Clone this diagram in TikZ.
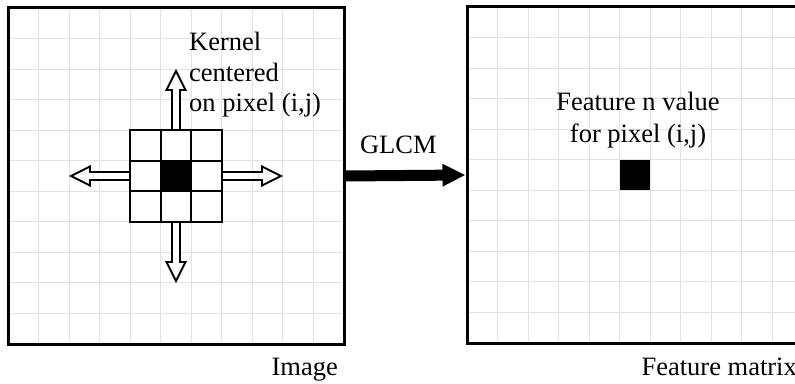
\documentclass[tikz,border=0pt]{standalone}
\usepackage{fontspec}
\setmainfont{Liberation Serif}
\usetikzlibrary{arrows.meta}

\tikzset{
  panel/.style={draw, line width=3pt, minimum size=336pt, inner sep=0pt},
  gridline/.style={draw=black!11, line width=1pt},
  cellline/.style={line width=2.2pt},
  hollow/.style={draw, fill=white, line width=1.8pt, line join=miter},
  txt/.style={font=\fontsize{26.5}{30.5}\selectfont, inner sep=0pt},
}

\begin{document}
\begin{tikzpicture}[x=1pt,y=1pt]
\clip (0,0) rectangle (795,383);
% background grids
\begin{scope}[shift={(8,39)}]
\draw [gridline, step=30.5455] (0,0) grid (336,336);
\end{scope}
\begin{scope}[shift={(467,40)}]
\draw [gridline, step=30.5455] (0,0) grid (336,336);
\end{scope}
\node [panel] (img) at (176,207) {};
\node [panel] (feat) at (635,208) {};
% kernel with its four arrows
\begin{scope}[shift={(img.center)}]
\foreach \a in {0,90,180,270}
  \draw [hollow, rotate=\a] (40,-4) -- (86,-4) -- (86,-9.5) -- (105,0) -- (86,9.5) -- (86,4) -- (40,4) -- cycle;
\end{scope}
\begin{scope}[shift={(130.18,161.18)}]
\fill [white] (0,0) rectangle (91.64,91.64);
\fill (30.5455,30.5455) rectangle (61.091,61.091);
\draw [cellline, step=30.5455] (0,0) grid (91.64,91.64);
\draw [cellline] (0,0) rectangle (91.64,91.64);
\end{scope}
\node [txt, anchor=base west, align=left] (kern) at (189,271) {Kernel\\centered\\on pixel (i,j)};
% output pixel
\fill (619.7,192.7) rectangle (650.3,223.3);
\node [txt, anchor=base, align=center, font=\fontsize{26.5}{32}\selectfont] (fval) at (638,240) {Feature n value\\for pixel (i,j)};
% GLCM arrow
\draw [line width=11pt, -{Triangle[length=23pt,width=21pt]}] (img.east) -- node [txt, above=16pt, pos=0.44] (glcm) {GLCM} (feat.west);
\node [txt, anchor=base east] (imglbl) at (338,7.3) {Image};
\node [txt, anchor=base east] (featlbl) at (797,8) {Feature matrix};
\end{tikzpicture}
\end{document}
